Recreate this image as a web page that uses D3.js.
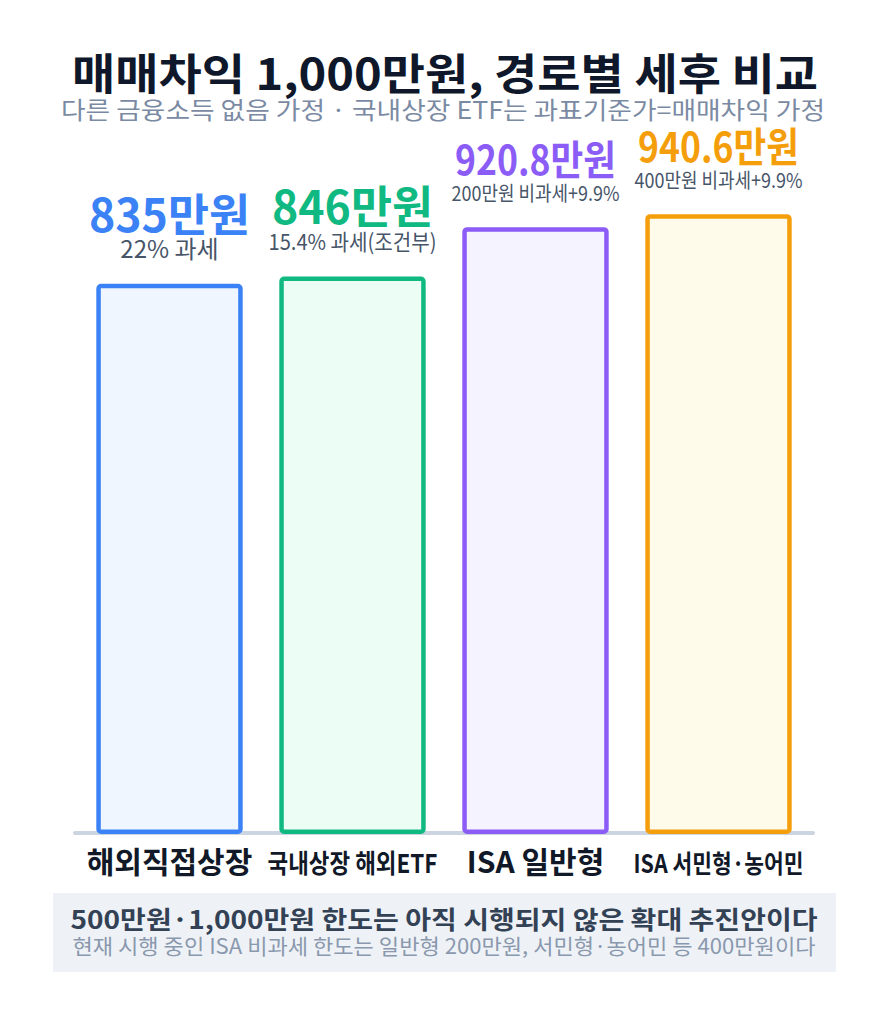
<!DOCTYPE html>
<html><head><meta charset="utf-8">
<script src="https://cdn.jsdelivr.net/npm/d3@7"></script>
<style>
html,body{margin:0;padding:0;background:#fff;}
svg{display:block;font-family:"Noto Sans CJK KR","Noto Sans",sans-serif;}
</style></head>
<body><svg id="c" width="888" height="1024"></svg>
<script>
const categories = ["해외직접상장", "국내상장 해외ETF", "ISA 일반형", "ISA 서민형·농어민"];
const values = [835, 846, 920.8, 940.6];
const valueLabels = ["835만원", "846만원", "920.8만원", "940.6만원"];
const noteLabels = ["22% 과세", "15.4% 과세(조건부)", "200만원 비과세+9.9%", "400만원 비과세+9.9%"];
const strokeColors = ["#3b82f6", "#10b981", "#8b5cf6", "#f59e0b"];
const fillColors = ["#eff6ff", "#ecfdf5", "#f5f3ff", "#fffbeb"];
const titleText = "매매차익 1,000만원, 경로별 세후 비교";
const subtitleText = "다른 금융소득 없음 가정 · 국내상장 ETF는 과표기준가=매매차익 가정";
const footerMain = "500만원·1,000만원 한도는 아직 시행되지 않은 확대 추진안이다";
const footerSub = "현재 시행 중인 ISA 비과세 한도는 일반형 200만원, 서민형·농어민 등 400만원이다";

const svg = d3.select("#c");
const data = categories.map((c, i) => ({c, v: values[i], lab: valueLabels[i], note: noteLabels[i], s: strokeColors[i], f: fillColors[i]}));

const x = d3.scaleBand().domain(categories).range([78, 810]).paddingInner(0.2).paddingOuter(0.1);
const y = d3.scaleLinear().domain([0, 1000]).range([834, 175]);

// shrink partly by size, partly by horizontal compression
function fit(sel, base, maxW) {
  sel.each(function () {
    const t = d3.select(this);
    t.attr("font-size", base);
    const w = this.getComputedTextLength();
    if (w > maxW) {
      t.attr("font-size", base * Math.sqrt(maxW / w));
      t.attr("textLength", maxW).attr("lengthAdjust", "spacingAndGlyphs");
    }
  });
}
function setWidth(sel, size, target) {
  sel.attr("font-size", size).attr("textLength", target).attr("lengthAdjust", "spacingAndGlyphs");
}

// title
const title = svg.append("text").attr("x", 445).attr("y", 90).attr("text-anchor", "middle")
  .attr("font-weight", 700).attr("fill", "#0f172a").text(titleText);
setWidth(title, 43, 746);
const sub = svg.append("text").attr("x", 443).attr("y", 119).attr("text-anchor", "middle")
  .attr("fill", "#7b8aa3").text(subtitleText);
setWidth(sub, 24, 764);

// baseline
svg.append("line").attr("x1", 75).attr("x2", 813).attr("y1", y(0) - 1).attr("y2", y(0) - 1)
  .attr("stroke", "#cbd5e1").attr("stroke-width", 4).attr("stroke-linecap", "round");

// bars
const sw = 4.5;
svg.selectAll("rect.bar").data(data).join("rect").attr("class", "bar")
  .attr("x", d => x(d.c) + sw / 2)
  .attr("width", x.bandwidth() - sw)
  .attr("y", d => y(d.v) + sw / 2)
  .attr("height", d => y(0) - y(d.v) - sw)
  .attr("rx", 2.5)
  .attr("fill", d => d.f).attr("stroke", d => d.s).attr("stroke-width", sw);

// notes
const notes = svg.selectAll("text.note").data(data).join("text").attr("class", "note")
  .attr("x", d => x(d.c) + x.bandwidth() / 2)
  .attr("y", d => y(d.v) - 26)
  .attr("text-anchor", "middle").attr("fill", "#475569").text(d => d.note);
fit(notes, 24, 168);

// value labels
const vals = svg.selectAll("text.val").data(data).join("text").attr("class", "val")
  .attr("x", d => x(d.c) + x.bandwidth() / 2)
  .attr("y", d => y(d.v) - 52)
  .attr("text-anchor", "middle").attr("font-weight", 700).attr("fill", d => d.s).text(d => d.lab);
fit(vals, 46, 161);

// category labels
const cats = svg.selectAll("text.cat").data(data).join("text").attr("class", "cat")
  .attr("x", d => x(d.c) + x.bandwidth() / 2)
  .attr("y", 873)
  .attr("text-anchor", "middle").attr("font-weight", 700).attr("fill", "#111827").text(d => d.c);
fit(cats, 30, 170);

// footer
svg.append("rect").attr("x", 53).attr("y", 893).attr("width", 783).attr("height", 79).attr("fill", "#eef2f7");
const fm = svg.append("text").attr("x", 444).attr("y", 929).attr("text-anchor", "middle")
  .attr("font-weight", 700).attr("fill", "#334155").text(footerMain);
setWidth(fm, 25, 747);
const fs = svg.append("text").attr("x", 444).attr("y", 954).attr("text-anchor", "middle")
  .attr("fill", "#8a98ad").text(footerSub);
setWidth(fs, 21, 743);
</script></body></html>
